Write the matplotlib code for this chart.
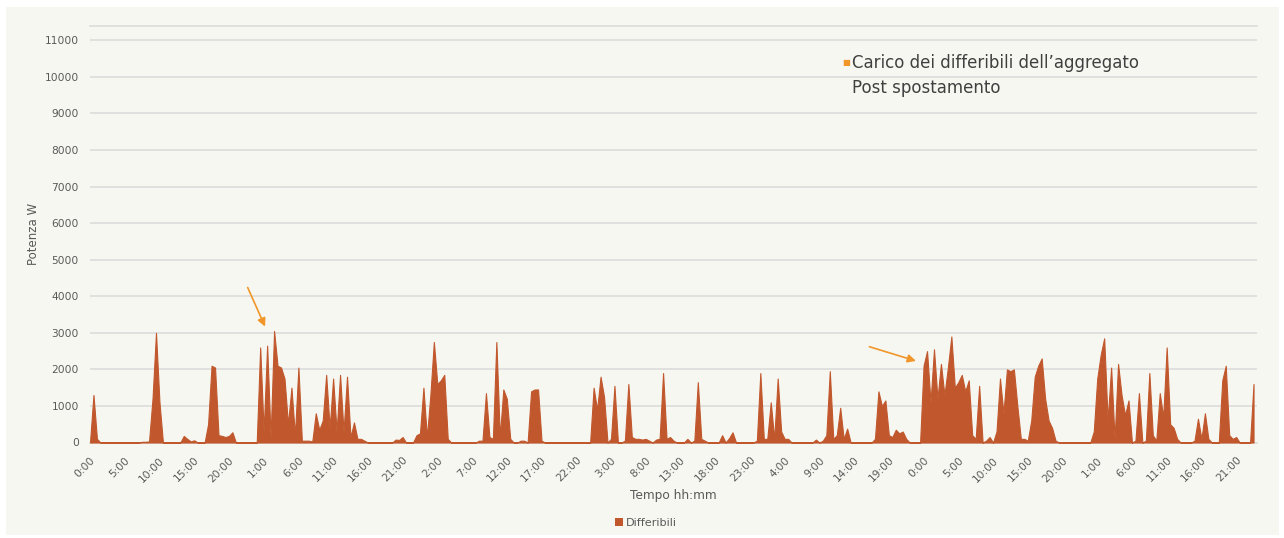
import numpy as np
import matplotlib
matplotlib.use("Agg")
import matplotlib.pyplot as plt
from matplotlib.patches import Rectangle, Patch

plt.rcParams['font.family'] = ['DejaVu Sans']

# ---- data: aggregate deferrable load (W), 30-minute steps, one list per day ----
step_h = 0.5
day0_w = [0, 1300, 100, 0, 0, 0, 0, 0,
          0, 0, 0, 0, 0, 0, 0, 20,
          20, 30, 1200, 3000, 1100, 0, 0, 0,
          0, 0, 0, 180, 100, 30, 60, 0,
          0, 0, 500, 2100, 2050, 200, 180, 150,
          180, 280, 0, 0, 0, 0, 0, 0]
day1_w = [0, 2600, 300, 2650, 150, 3050, 2100, 2050,
          1750, 500, 1500, 200, 2050, 50, 50, 50,
          30, 800, 350, 600, 1850, 400, 1750, 300,
          1850, 300, 1800, 150, 550, 100, 100, 50,
          0, 0, 0, 0, 0, 0, 0, 0,
          80, 70, 150, 0, 0, 0, 200, 250]
day2_w = [1500, 150, 1300, 2750, 1600, 1700, 1850, 100,
          0, 0, 0, 0, 0, 0, 0, 0,
          50, 50, 1350, 150, 100, 2750, 150, 1450,
          1200, 100, 0, 0, 50, 50, 0, 1400,
          1450, 1450, 50, 0, 0, 0, 0, 0,
          0, 0, 0, 0, 0, 0, 0, 0]
day3_w = [0, 1500, 900, 1800, 1250, 0, 100, 1550,
          0, 0, 50, 1600, 150, 100, 100, 80,
          100, 50, 0, 80, 100, 1900, 100, 150,
          50, 0, 0, 0, 100, 0, 50, 1650,
          100, 50, 0, 0, 0, 0, 200, 0,
          120, 280, 0, 0, 0, 0, 0, 0]
day4_w = [50, 1900, 100, 100, 1100, 100, 1750, 300,
          100, 100, 0, 0, 0, 0, 0, 0,
          0, 80, 0, 50, 200, 1950, 100, 200,
          950, 100, 380, 0, 0, 0, 0, 0,
          0, 0, 100, 1400, 1000, 1150, 200, 150,
          350, 250, 300, 100, 0, 0, 0, 0]
day5_w = [2100, 2500, 1100, 2550, 1200, 2150, 1300, 2050,
          2900, 1500, 1650, 1850, 1400, 1700, 200, 100,
          1550, 0, 50, 150, 0, 300, 1750, 800,
          2000, 1950, 2000, 1000, 100, 100, 50, 600,
          1800, 2100, 2300, 1200, 600, 400, 50, 0,
          0, 0, 0, 0, 0, 0, 0, 0]
day6_w = [0, 300, 1750, 2400, 2850, 600, 2050, 100,
          2150, 1300, 750, 1150, 0, 50, 1350, 0,
          50, 1900, 200, 50, 1350, 700, 2600, 500,
          400, 100, 0, 0, 0, 0, 50, 650,
          100, 800, 100, 0, 0, 0, 1700, 2100,
          200, 100, 150, 0, 0, 0, 0, 1600]

tick_hours = list(range(0, 166, 5))
tick_labels = ["0:00", "5:00", "10:00", "15:00", "20:00", "1:00", "6:00", "11:00",
               "16:00", "21:00", "2:00", "7:00", "12:00", "17:00", "22:00", "3:00",
               "8:00", "13:00", "18:00", "23:00", "4:00", "9:00", "14:00", "19:00",
               "0:00", "5:00", "10:00", "15:00", "20:00", "1:00", "6:00", "11:00",
               "16:00", "21:00"]
y_ticks = list(range(0, 11001, 1000))
series_name = "Differibili"
title_lines = ["Carico dei differibili dell\u2019aggregato", "Post spostamento"]

power = np.array(day0_w + day1_w + day2_w + day3_w + day4_w + day5_w + day6_w, dtype=float)
hours = np.arange(len(power)) * step_h

# ---- style ----
W, H = 1284, 538
fill_c = '#C1582D'
grid_c = '#DEDEDE'
txt_c = '#595959'
arrow_c = '#F0962A'

fig = plt.figure(figsize=(W / 100, H / 100), dpi=100)
fig.patch.set_facecolor('white')
fig.patches.append(Rectangle((6 / W, 3 / H), 1273 / W, 528 / H, transform=fig.transFigure,
                             facecolor='#F7F7F2', edgecolor='none', zorder=-10))

ax = fig.add_axes([90 / W, 1 - 442.5 / H, 1167 / W, (442.5 - 25.7) / H])
ax.set_facecolor('none')
ax.fill_between(hours, 0, power, color=fill_c, linewidth=0.8, edgecolor=fill_c, zorder=3)
ax.set_xlim(0, 168)
ax.set_ylim(0, 11400)

ax.set_yticks(y_ticks)
ax.set_yticklabels([str(v) for v in y_ticks])
ax.yaxis.grid(True, color=grid_c, linewidth=1.3)
ax.set_axisbelow(True)
for s in ['left', 'right']:
    ax.spines[s].set_visible(False)
ax.spines['top'].set_color(grid_c)
ax.spines['top'].set_linewidth(1.3)
ax.spines['bottom'].set_color(grid_c)
ax.spines['bottom'].set_linewidth(1.3)
ax.tick_params(axis='both', length=0, labelsize=7.7, labelcolor=txt_c)
ax.tick_params(axis='y', pad=8)

ax.set_xticks(tick_hours)
ax.set_xticklabels(tick_labels, rotation=45, ha='right', va='top', rotation_mode='anchor')
ax.tick_params(axis='x', pad=9)

ax.set_ylabel("Potenza W", fontsize=8.5, color=txt_c, labelpad=3)
fig.text(673 / W, 1 - 495 / H, "Tempo hh:mm", fontsize=8.7, color=txt_c, ha='center', va='center')

fig.legend(handles=[Patch(facecolor=fill_c, edgecolor='none', label=series_name)],
           loc='center', bbox_to_anchor=(646 / W, 1 - 523 / H), frameon=False,
           fontsize=8.1, handlelength=0.7, handleheight=0.7, handletextpad=0.3,
           labelcolor=txt_c)

# title-like annotation
fig.text(846.5 / W, 1 - 62 / H, "\u25A0", fontsize=6, color=arrow_c, ha='center', va='center')
fig.text(852 / W, 1 - 63 / H, title_lines[0], fontsize=12, color='#404040', ha='left', va='center')
fig.text(852 / W, 1 - 88 / H, title_lines[1], fontsize=12, color='#404040', ha='left', va='center')

# arrows
ax.annotate('', xy=(25.2, 3170), xytext=(22.7, 4240),
            arrowprops=dict(arrowstyle='-|>', color=arrow_c, lw=1.2, mutation_scale=12,
                            shrinkA=0, shrinkB=0), zorder=5)
ax.annotate('', xy=(118.9, 2230), xytext=(112.2, 2620),
            arrowprops=dict(arrowstyle='-|>', color=arrow_c, lw=1.2, mutation_scale=12,
                            shrinkA=0, shrinkB=0), zorder=5)

fig.savefig("out.png", dpi=100)
